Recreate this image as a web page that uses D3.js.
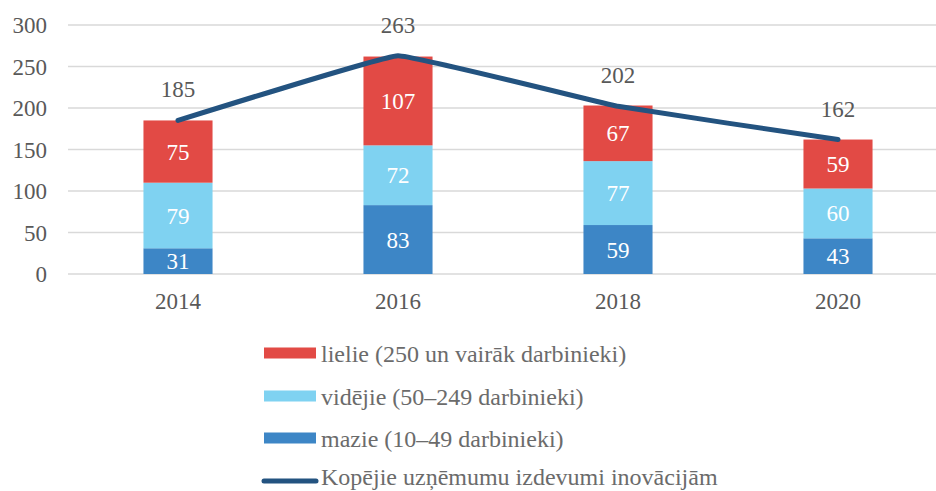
<!DOCTYPE html>
<html><head><meta charset="utf-8">
<script src="https://cdn.jsdelivr.net/npm/d3@7"></script>
<style>body{margin:0;background:#fff}svg{display:block}
svg text{font-family:"Liberation Serif","Times New Roman","DejaVu Serif",serif !important;}</style>
</head><body>
<svg id="c" width="936" height="491"></svg>
<script>
const years = ["2014","2016","2018","2020"];
const mazie = [31,83,59,43];
const videjie = [79,72,77,60];
const lielie = [75,107,67,59];
const kopejie = [185,263,202,162];
const yTicks = [0,50,100,150,200,250,300];
const seriesNames = ["lielie (250 un vairāk darbinieki)","vidējie (50–249 darbinieki)","mazie (10–49 darbinieki)","Kopējie uzņēmumu izdevumi inovācijām"];
const colors = {lielie:"#E24A45", videjie:"#7FD2F1", mazie:"#3D86C6", line:"#235380"};

const svg = d3.select("#c");
const x = d3.scaleBand().domain(years).range([68,948]).paddingInner(0.686).paddingOuter(0.343);
const y = d3.scaleLinear().domain([0,300]).range([274,25]);

svg.append("g").selectAll("line").data(yTicks).join("line")
  .attr("x1",68).attr("x2",936).attr("y1",d=>y(d)).attr("y2",d=>y(d))
  .attr("stroke","#d9d9d9").attr("stroke-width",1.3);

const yAxis = d3.axisLeft(y).tickValues(yTicks).tickSize(0).tickPadding(0);
const ya = svg.append("g").attr("transform","translate(47,0)").call(yAxis);
ya.select(".domain").remove();
ya.selectAll("text").attr("font-size",23).attr("fill","#595959").attr("dy","0.34em");

const xAxis = d3.axisBottom(x).tickSize(0).tickPadding(0);
const xa = svg.append("g").attr("transform","translate(0,309)").call(xAxis);
xa.select(".domain").remove();
xa.selectAll("text").attr("font-size",23).attr("fill","#595959").attr("dy","0");

const rows = years.map((yr,i)=>({year:yr, mazie:mazie[i], videjie:videjie[i], lielie:lielie[i]}));
const stack = d3.stack().keys(["mazie","videjie","lielie"])(rows);
const gBars = svg.append("g");
stack.forEach(layer=>{
  const g = gBars.append("g");
  g.selectAll("rect").data(layer).join("rect")
    .attr("x",d=>x(d.data.year)).attr("width",x.bandwidth())
    .attr("y",d=>y(d[1])).attr("height",d=>y(d[0])-y(d[1]))
    .attr("fill",colors[layer.key]);
  g.selectAll("text").data(layer).join("text")
    .attr("x",d=>x(d.data.year)+x.bandwidth()/2)
    .attr("y",d=>(y(d[0])+y(d[1]))/2)
    .attr("dy","0.35em").attr("text-anchor","middle")
    .attr("font-size",23).attr("fill","#fff")
    .text(d=>d[1]-d[0]);
});

const line = d3.line().x((d,i)=>x(years[i])+x.bandwidth()/2).y(d=>y(d)).curve(d3.curveCardinal.tension(0.8));
svg.append("path").datum(kopejie).attr("d",line).attr("fill","none")
  .attr("stroke",colors.line).attr("stroke-width",5).attr("stroke-linecap","round");
svg.append("g").selectAll("text").data(kopejie).join("text")
  .attr("x",(d,i)=>x(years[i])+x.bandwidth()/2).attr("y",d=>y(d)-23)
  .attr("text-anchor","middle").attr("font-size",23).attr("fill","#595959")
  .text(d=>d);

const leg = svg.append("g");
const legY = [353,396,438,481];
const legBase = [362,405,447,485];
const legColors = [colors.lielie, colors.videjie, colors.mazie];
legColors.forEach((c,i)=>{
  leg.append("rect").attr("x",264).attr("y",legY[i]-5.5).attr("width",52).attr("height",11).attr("fill",c);
});
leg.append("line").attr("x1",264).attr("x2",316).attr("y1",legY[3]).attr("y2",legY[3])
  .attr("stroke",colors.line).attr("stroke-width",5).attr("stroke-linecap","round");
leg.selectAll("text").data(seriesNames).join("text")
  .attr("x",321).attr("y",(d,i)=>legBase[i])
  .attr("font-size",24).attr("fill","#6b6b6b")
  .text(d=>d);
</script>
</body></html>
